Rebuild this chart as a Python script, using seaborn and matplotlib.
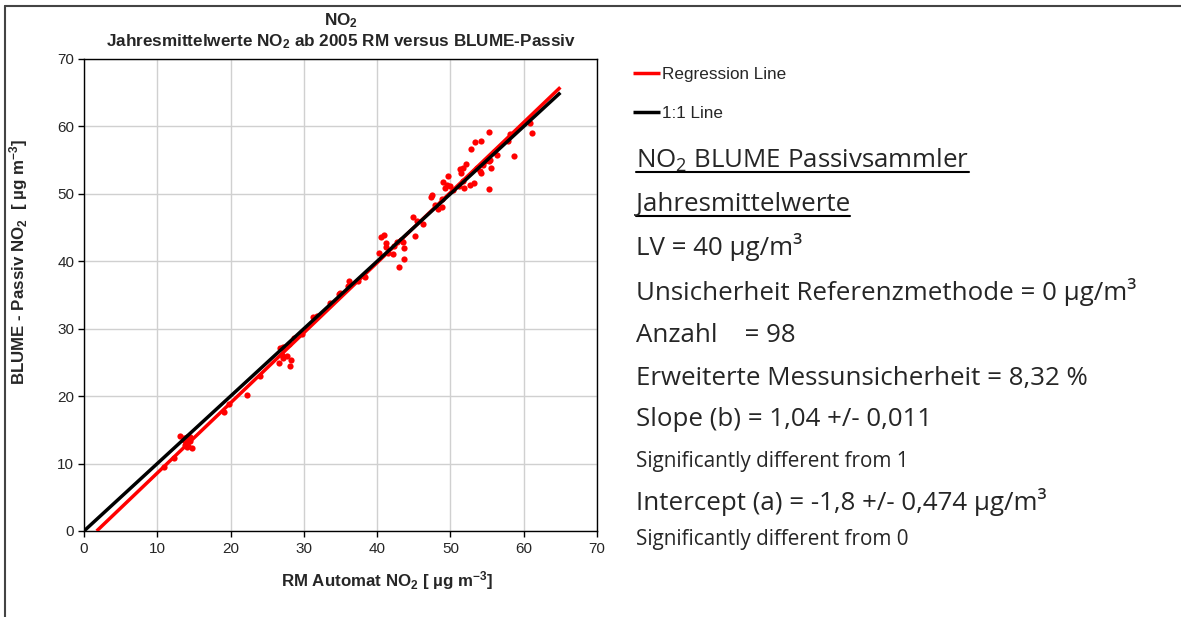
import matplotlib
matplotlib.use("Agg")
import matplotlib.pyplot as plt
import seaborn as sns
import pandas as pd
from matplotlib.lines import Line2D

# Annual means: reference method (RM Automat) vs BLUME passive sampler, ug/m3
rm_automat = [10.9, 12.3, 13.1, 13.8, 14.8, 19.1, 19.8, 22.2,
              13.7, 14.0, 14.3, 14.1, 14.5, 13.9, 14.2, 14.4, 13.6, 14.0,
              24.0, 26.6, 28.1, 27.0, 27.2, 27.7, 28.2, 26.7, 27.1, 28.0,
              28.6, 29.7, 31.3, 31.8, 33.5,
              34.8, 34.9, 36.0, 36.2, 37.4, 38.4, 40.3, 40.5, 41.0, 41.2,
              41.2, 41.5, 42.1, 42.3, 42.7, 43.2, 43.5, 43.6, 43.7, 43.0,
              44.9, 45.1, 46.2, 45.5,
              47.5, 47.4, 48.9, 47.9, 48.3, 48.9, 49.7, 49.0, 49.2, 49.9,
              49.5, 51.7, 51.2, 51.8, 52.7, 53.2, 55.3, 51.3, 51.7, 51.5,
              52.1, 53.6, 54.1, 54.2, 55.5, 54.7, 54.4, 55.4, 55.2, 56.3,
              58.7, 52.8, 53.3, 54.2, 57.8, 55.2, 58.1, 60.8, 61.1, 56.0,
              50.3]
blume_passiv = [9.45, 10.8, 14.1, 12.8, 12.3, 17.7, 18.8, 20.2,
                13.5, 13.9, 13.7, 13.2, 13.9, 12.9, 12.6, 13.4, 13.8, 12.4,
                23.0, 24.9, 24.5, 26.1, 25.6, 25.9, 25.4, 27.1, 27.3, 27.7,
                28.6, 29.2, 31.8, 31.9, 33.8,
                35.1, 35.3, 36.4, 37.1, 37.1, 37.7, 41.3, 43.6, 43.9, 42.7,
                42.1, 41.2, 41.05, 42.3, 42.9, 43.1, 42.8, 41.9, 40.4, 39.2,
                46.5, 43.7, 45.6, 46.0,
                49.9, 49.5, 49.3, 48.4, 47.7, 48.0, 52.6, 51.8, 50.8, 51.1,
                51.3, 51.9, 51.2, 50.8, 51.3, 51.6, 50.7, 53.7, 53.8, 53.1,
                54.4, 53.8, 53.4, 53.1, 53.9, 54.8, 54.3, 55.0, 54.8, 55.8,
                55.6, 56.6, 57.7, 57.9, 57.8, 59.2, 58.9, 60.5, 59.0, 56.2,
                50.5]

# Fit result shown in the chart
slope = 1.04
intercept = -1.8
reg_x = [-intercept / slope, 65]
one_x = [0, 65]

big, small = 18.6, 14.9
stats_lines = [
    ("NO$_2$ BLUME Passivsammler", big, True),
    ("Jahresmittelwerte", big, True),
    ("LV = 40 µg/m³", big, False),
    ("Unsicherheit Referenzmethode = 0 µg/m³", big, False),
    ("Anzahl    = 98", big, False),
    ("Erweiterte Messunsicherheit = 8,32 %", big, False),
    ("Slope (b) = 1,04 +/- 0,011", big, False),
    ("Significantly different from 1", small, False),
    ("Intercept (a) = -1,8 +/- 0,474 µg/m³", big, False),
    ("Significantly different from 0", small, False),
]
stats_y = [160, 205, 247, 292, 335, 378, 419, 461, 502, 540]

sns.set_style("white")
plt.rcParams["font.family"] = ["Liberation Sans", "DejaVu Sans"]
plt.rcParams["mathtext.default"] = "regular"

df = pd.DataFrame({"rm": rm_automat, "passiv": blume_passiv})

W, H = 1181, 617
fig = plt.figure(figsize=(W / 100, H / 100), dpi=100)
ax = fig.add_axes([84 / W, 1 - 531 / H, (597 - 84) / W, (531 - 59) / H])

ax.grid(True, color="#d0d0d0", linewidth=1)
ax.set_axisbelow(True)

sns.scatterplot(data=df, x="rm", y="passiv", ax=ax, color="#ff0000",
                s=20, linewidth=0, zorder=3, legend=False)
ax.plot(reg_x, [slope * v + intercept for v in reg_x], color="#ff0000",
        lw=2.5, label="Regression Line", zorder=4, solid_capstyle="butt")
ax.plot(one_x, one_x, color="black", lw=2.5, label="1:1 Line", zorder=4,
        solid_capstyle="butt")

ax.set_xlim(0, 70)
ax.set_ylim(0, 70)
ax.set_xticks(range(0, 71, 10))
ax.set_yticks(range(0, 71, 10))
ax.tick_params(axis="both", direction="out", length=4, width=1,
               labelsize=11, color="black", bottom=True, left=True)
ax.tick_params(axis="x", pad=4)
ax.tick_params(axis="y", pad=3)
for sp in ax.spines.values():
    sp.set_color("black")
    sp.set_linewidth(1)

ax.set_title("NO$_2$\nJahresmittelwerte NO$_2$ ab 2005 RM versus BLUME-Passiv",
             fontsize=12.3, fontweight="bold", pad=9, linespacing=1.15)
ax.set_xlabel("RM Automat NO$_2$ [ µg m$^{-3}$]", fontsize=12.2,
              fontweight="bold")
ax.xaxis.set_label_coords(0.59, -0.08)
ax.set_ylabel("BLUME - Passiv NO$_2$  [ µg m$^{-3}$]", fontsize=12.2,
              fontweight="bold")
ax.yaxis.set_label_coords(-0.105, 0.57)

fig.legend(loc="upper left", bbox_to_anchor=(626 / W, 1 - 60 / H),
           frameon=False, fontsize=12.3, handlelength=1.6, handletextpad=0.1,
           labelspacing=1.4, borderaxespad=0)

# right-hand statistics block
fig.canvas.draw()
renderer = fig.canvas.get_renderer()
for (txt, fs, underline), yp in zip(stats_lines, stats_y):
    t = fig.text(636 / W, 1 - yp / H, txt, fontsize=fs, va="center",
                 ha="left", family=["Open Sans", "DejaVu Sans"])
    if underline:
        bb = t.get_window_extent(renderer)
        uy = (bb.y0 + 2) / H
        fig.add_artist(Line2D([bb.x0 / W, bb.x1 / W], [uy, uy],
                              color="black", lw=1.5))

# outer frame (top and left edges)
fig.add_artist(Line2D([5 / W, 1], [1 - 6 / H, 1 - 6 / H], color="#444444", lw=1.5))
fig.add_artist(Line2D([5 / W, 5 / W], [0, 1 - 6 / H], color="#444444", lw=1.5))

fig.savefig("out.png", dpi=100)
